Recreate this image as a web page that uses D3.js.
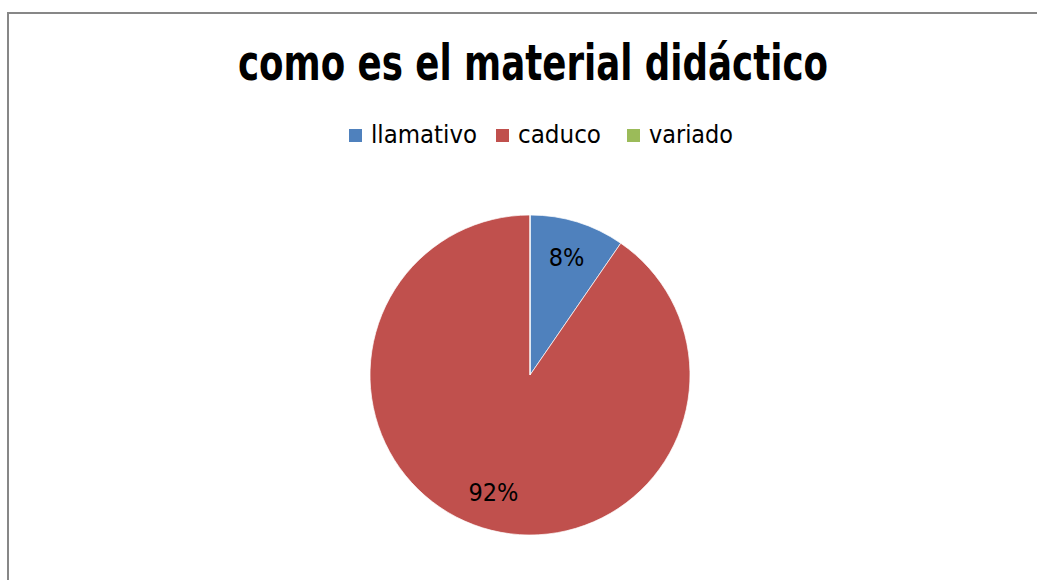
<!DOCTYPE html>
<html>
<head>
<meta charset="utf-8">
<script src="https://cdn.jsdelivr.net/npm/d3@7"></script>
<style>
  html, body { margin: 0; padding: 0; background: #fff; overflow: hidden; }
  text { font-family: "Liberation Sans Narrow", "DejaVu Sans Condensed", "Open Sans", sans-serif; }
</style>
</head>
<body>
<svg id="chart" width="1037" height="580"></svg>
<script>
"use strict";

// data
var categories = ["llamativo", "caduco", "variado"];
var values = [9.6, 90.4, 0];          // slice sizes as drawn
var pctLabels = ["8%", "92%", ""];    // labels as printed on the slices
var colors = ["#4F81BD", "#C0504D", "#9BBB59"];
var title = "como es el material didáctico";

(function(){
    var svg = d3.select("#chart"),
        cx = 530, cy = 375, r = 160;

    // chart area frame (runs off the right and bottom edges)
    svg.append("rect")
        .attr("x", 8).attr("y", 13)
        .attr("width", 1100).attr("height", 700)
        .attr("fill", "#fff")
        .attr("stroke", "#878787")
        .attr("stroke-width", 2);

    // title
    svg.append("text")
        .attr("x", 533).attr("y", 80)
        .attr("text-anchor", "middle")
        .attr("font-size", 50)
        .attr("font-weight", "bold")
        .attr("textLength", 590)
        .attr("lengthAdjust", "spacingAndGlyphs")
        .attr("fill", "#000")
        .text(title);

    // legend
    var legendX = [349, 496, 627],
        legendW = [106, 83, 84];
    var leg = svg.selectAll("g.leg")
        .data(categories)
        .enter()
        .append("g")
        .attr("class", "leg")
        .attr("transform", function(d, i){ return "translate(" + legendX[i] + ",129)"; });

    leg.append("rect")
        .attr("width", 13).attr("height", 13)
        .attr("fill", function(d, i){ return colors[i]; });

    leg.append("text")
        .attr("x", 22).attr("y", 14)
        .attr("font-size", 25)
        .attr("textLength", function(d, i){ return legendW[i]; })
        .attr("lengthAdjust", "spacingAndGlyphs")
        .attr("fill", "#000")
        .text(function(d){ return d; });

    // pie
    var pie = d3.pie().sort(null).value(function(d){ return d; });
    var arc = d3.arc().innerRadius(0).outerRadius(r);
    var labelArc = d3.arc().innerRadius(r * 0.77).outerRadius(r * 0.77);

    var slices = svg.append("g")
        .attr("transform", "translate(" + cx + "," + cy + ")")
        .selectAll("g")
        .data(pie(values))
        .enter()
        .append("g");

    slices.append("path")
        .attr("d", arc)
        .attr("fill", function(d, i){ return colors[i]; })
        .attr("stroke", "#fff")
        .attr("stroke-width", 0.7);

    slices.append("text")
        .attr("transform", function(d){ return "translate(" + labelArc.centroid(d) + ")"; })
        .attr("text-anchor", "middle")
        .attr("dy", ".35em")
        .attr("font-size", 25)
        .attr("fill", "#000")
        .text(function(d, i){ return pctLabels[i]; });
})();
</script>
</body>
</html>
